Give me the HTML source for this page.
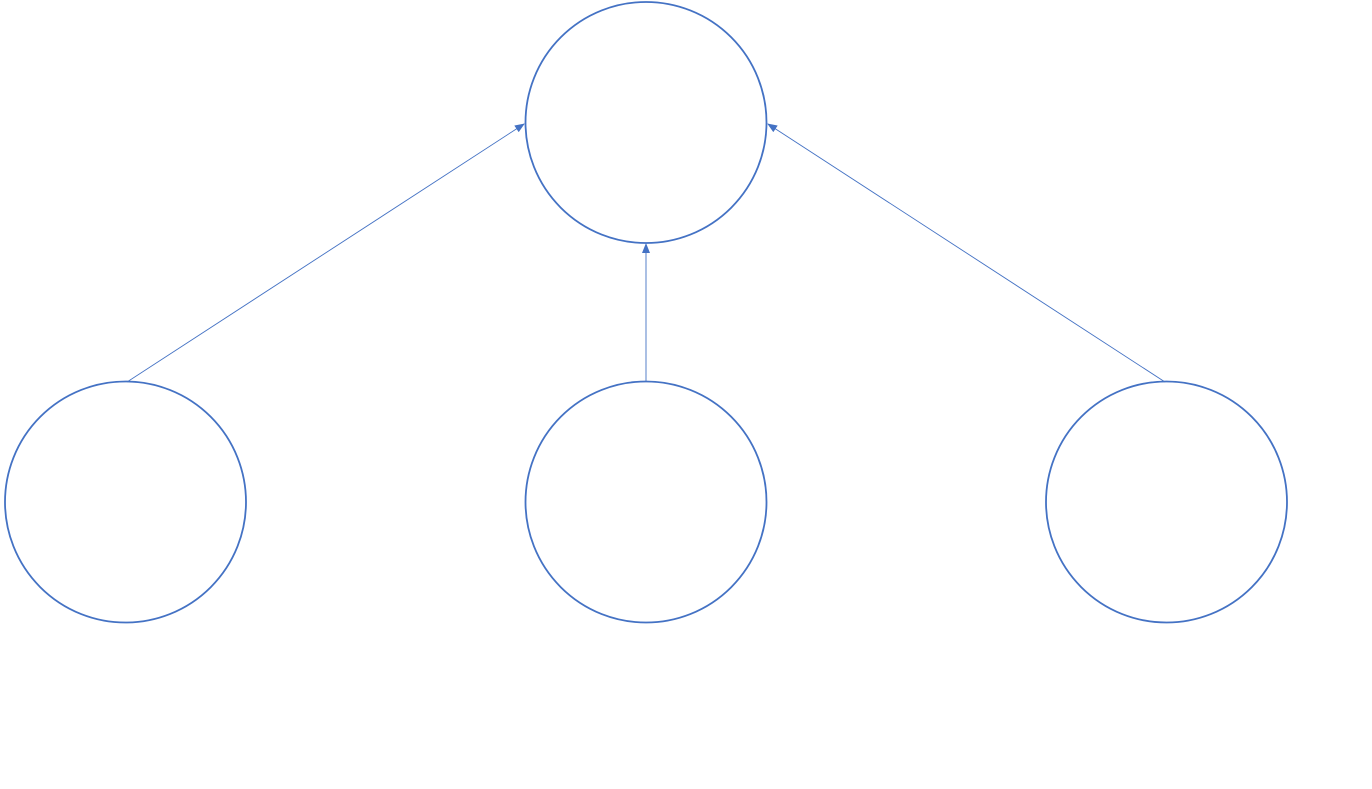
<!DOCTYPE html>
<html><head><style>html,body{margin:0;padding:0;background:#fff;}svg{display:block;}</style></head>
<body>
<svg width="1372" height="789" viewBox="0 0 1372 789" xmlns="http://www.w3.org/2000/svg">
<defs>
<marker id="a" markerWidth="10" markerHeight="8" refX="9" refY="4" orient="auto" markerUnits="userSpaceOnUse">
<path d="M0,0 L10,4 L0,8 Z" fill="#4472C4"/>
</marker>
</defs>
<g fill="none" stroke="#4472C4" stroke-width="1.8">
<circle cx="646" cy="122.5" r="120.5"/>
<circle cx="125.5" cy="502" r="120.5"/>
<circle cx="646" cy="502" r="120.5"/>
<circle cx="1166.5" cy="502" r="120.5"/>
</g>
<g stroke="#4472C4" stroke-width="0.9" fill="none">
<line x1="127" y1="382" x2="524" y2="124" marker-end="url(#a)"/>
<line x1="646" y1="382" x2="646" y2="244" marker-end="url(#a)"/>
<line x1="1165" y1="382" x2="768" y2="124" marker-end="url(#a)"/>
</g>
</svg>
</body></html>
